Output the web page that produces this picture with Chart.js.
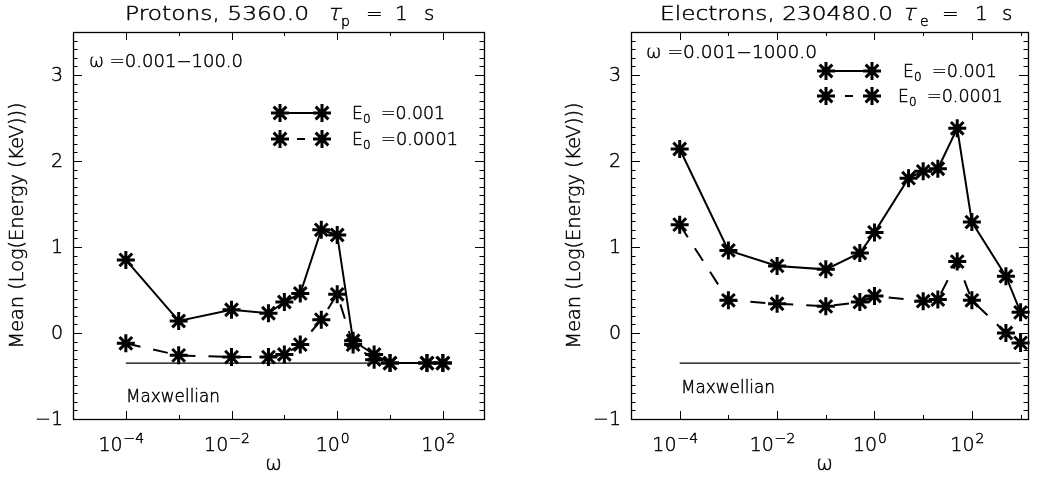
<!DOCTYPE html>
<html>
<head>
<meta charset="utf-8">
<script src="https://cdn.jsdelivr.net/npm/chart.js@4.4.0/dist/chart.umd.min.js"></script>
<style>
  html, body { margin: 0; padding: 0; background: #fff; }
  #wrap { position: relative; width: 1040px; height: 480px; }
  .panel { position: absolute; top: 0; width: 520px; height: 480px; }
</style>
</head>
<body>
<div id="wrap">
  <div class="panel" style="left:0"><canvas id="protons"></canvas></div>
  <div class="panel" style="left:520px"><canvas id="electrons"></canvas></div>
</div>
<script>
// ===== Data =====
// Protons
const protonOmega = [1e-4, 1e-3, 1e-2, 0.05, 0.1, 0.2, 0.5, 1, 2, 5, 10, 50, 100];
const protonE001  = [0.85, 0.14, 0.27, 0.23, 0.36, 0.46, 1.20, 1.14, -0.09, -0.25, -0.35, -0.35, -0.35];
const protonE0001 = [-0.12, -0.26, -0.28, -0.28, -0.25, -0.135, 0.155, 0.45, -0.135, -0.31, -0.35, -0.35, -0.35];

// Electrons
const electronOmega1 = [1e-4, 1e-3, 1e-2, 0.1, 0.5, 1, 5, 10, 20, 50, 100, 500, 1000];
const electronE001   = [2.14, 0.96, 0.78, 0.74, 0.93, 1.17, 1.80, 1.88, 1.91, 2.38, 1.29, 0.66, 0.24];
const electronOmega2 = [1e-4, 1e-3, 1e-2, 0.1, 0.5, 1, 10, 20, 50, 100, 500, 1000];
const electronE0001  = [1.26, 0.38, 0.34, 0.31, 0.36, 0.43, 0.37, 0.39, 0.83, 0.38, 0.0, -0.115];

// Maxwellian reference level and its omega span
const maxwellianLevel = -0.35;
const protonMaxwellianSpan = [1e-4, 100];
const electronMaxwellianSpan = [1e-4, 1000];

// Axis ticks
const yTickValues = [-1, 0, 1, 2, 3];
const yTickLabels = ['\u22121', '0', '1', '2', '3'];
const xTickExponents = [-4, -2, 0, 2];
const xTickExpLabels = ['\u22124', '\u22122', '0', '2'];

const legendLabels = ['=0.001', '=0.0001'];

// ===== Helpers =====
const FONT = '"DejaVu Sans", sans-serif';
const pts = (xs, ys) => xs.map((v, i) => ({ x: v, y: ys[i] }));

function setFont(ctx, size) {
  ctx.font = '200 ' + size + 'px ' + FONT;
}

// thin font, darkened a little with a light stroke
function txt(ctx, text, x, y) {
  ctx.fillText(text, x, y);
  ctx.strokeText(text, x, y);
}

// draw text stretched/compressed to a given width, optionally slanted
function fitText(ctx, text, x, y, w, slant) {
  const m = ctx.measureText(text).width;
  ctx.save();
  ctx.translate(x, y);
  if (slant) ctx.transform(1, 0, -0.25, 1, 0, 0);
  if (w) ctx.scale(w / m, 1);
  txt(ctx, text, 0, 0);
  ctx.restore();
}

function star(ctx, x, y, r) {
  ctx.beginPath();
  for (let k = 0; k < 4; k++) {
    const a = k * Math.PI / 4;
    ctx.moveTo(x - Math.cos(a) * r, y - Math.sin(a) * r);
    ctx.lineTo(x + Math.cos(a) * r, y + Math.sin(a) * r);
  }
  ctx.stroke();
}

// frame, inward ticks on all 4 sides, labels and texts (IDL look)
function drawDecor(chart, cfg) {
  const { ctx, chartArea: a, scales: { x, y } } = chart;
  ctx.save();
  ctx.strokeStyle = '#000';
  ctx.fillStyle = '#000';
  ctx.lineWidth = 1.3;
  ctx.strokeRect(a.left + 0.5, a.top + 0.5, a.right - a.left, a.bottom - a.top);

  // y ticks every 0.1, major every 1
  ctx.lineWidth = 1;
  ctx.beginPath();
  for (let i = -10; i <= 35; i++) {
    const py = Math.round(y.getPixelForValue(i / 10)) + 0.5;
    if (py <= a.top + 1 || py >= a.bottom - 1) continue;
    const len = i % 10 === 0 ? 9 : 4.5;
    ctx.moveTo(a.left, py); ctx.lineTo(a.left + len, py);
    ctx.moveTo(a.right, py); ctx.lineTo(a.right - len, py);
  }
  // x ticks at each decade, major on even exponents
  for (let e = -5; e <= 4; e++) {
    const px = Math.round(x.getPixelForValue(Math.pow(10, e))) + 0.5;
    if (px <= a.left + 1 || px >= a.right - 1) continue;
    const len = e % 2 === 0 ? 8 : 4;
    ctx.moveTo(px, a.bottom); ctx.lineTo(px, a.bottom - len);
    ctx.moveTo(px, a.top); ctx.lineTo(px, a.top + len);
  }
  ctx.stroke();

  ctx.lineWidth = 0.45;

  // y tick labels
  setFont(ctx, 19);
  ctx.textAlign = 'right';
  ctx.textBaseline = 'middle';
  yTickValues.forEach((v, i) => {
    txt(ctx, yTickLabels[i], a.left - 10, y.getPixelForValue(v) + 1);
  });

  // x tick labels: 10 with superscript exponent
  ctx.textAlign = 'left';
  ctx.textBaseline = 'alphabetic';
  xTickExponents.forEach((e, i) => {
    const px = x.getPixelForValue(Math.pow(10, e));
    setFont(ctx, 19);
    const w10 = ctx.measureText('10').width;
    setFont(ctx, 14);
    const we = ctx.measureText(xTickExpLabels[i]).width;
    const x0 = px - 5 - (w10 + we) / 2;
    setFont(ctx, 19);
    txt(ctx, '10', x0, 451);
    setFont(ctx, 14);
    txt(ctx, xTickExpLabels[i], x0 + w10 + 1, 443);
  });

  // x axis title
  setFont(ctx, 20);
  ctx.textAlign = 'center';
  txt(ctx, '\u03c9', (a.left + a.right) / 2 - 5, 470);

  // y axis title
  ctx.save();
  ctx.translate(cfg.yTitleX, (a.top + a.bottom) / 2);
  ctx.rotate(-Math.PI / 2);
  setFont(ctx, 19);
  ctx.textAlign = 'left';
  ctx.textBaseline = 'middle';
  fitText(ctx, 'Mean (Log(Energy (KeV)))', -123, 0, 246);
  ctx.restore();

  // title pieces
  ctx.textAlign = 'left';
  ctx.textBaseline = 'alphabetic';
  cfg.title.forEach(p => {
    setFont(ctx, p.size || 20);
    fitText(ctx, p.t, p.x, 20 + (p.dy || 0), p.w, p.italic);
  });

  // omega range note
  setFont(ctx, 17);
  fitText(ctx, cfg.note.t, cfg.note.x, cfg.note.y, cfg.note.w);

  // Maxwellian label
  fitText(ctx, 'Maxwellian', cfg.maxLabel.x, cfg.maxLabel.y, 94);

  // legend
  cfg.legend.forEach((L, i) => {
    ctx.lineWidth = 3;
    star(ctx, L.s1, L.y, 9);
    star(ctx, L.s2, L.y, 9);
    ctx.lineWidth = 2;
    ctx.beginPath();
    if (i === 0) {
      ctx.moveTo(L.s1, L.y); ctx.lineTo(L.s2, L.y);
    } else {
      const mid = (L.s1 + L.s2) / 2;
      ctx.moveTo(mid - 4, L.y); ctx.lineTo(mid + 4, L.y);
    }
    ctx.stroke();
    ctx.lineWidth = 0.45;
    setFont(ctx, 17);
    txt(ctx, 'E', L.tx, L.y + 6);
    setFont(ctx, 12);
    txt(ctx, '0', L.tx + 11, L.y + 10);
    setFont(ctx, 17);
    fitText(ctx, legendLabels[i], L.tx + 29, L.y + 6, L.w);
  });
  ctx.restore();
}

function makePanel(canvasId, cfg) {
  const starStyle = {
    borderColor: '#000', backgroundColor: '#000',
    pointStyle: 'star', pointRadius: 9, pointBorderWidth: 3,
    pointBorderColor: '#000', borderWidth: 2, tension: 0, clip: false
  };
  new Chart(document.getElementById(canvasId), {
    type: 'line',
    data: {
      datasets: [
        { data: pts(cfg.maxSpan, [maxwellianLevel, maxwellianLevel]), borderColor: '#000',
          borderWidth: 1.4, pointRadius: 0, clip: false },
        Object.assign({ data: pts(cfg.omega1, cfg.e1) }, starStyle),
        Object.assign({ data: pts(cfg.omega2, cfg.e2), borderDash: [15, 13] }, starStyle)
      ]
    },
    options: {
      responsive: true,
      maintainAspectRatio: false,
      animation: false,
      events: [],
      layout: { padding: cfg.padding },
      scales: {
        x: { type: 'logarithmic', min: 1e-5, max: cfg.xMax, display: false },
        y: { type: 'linear', min: -1, max: 3.5, display: false }
      },
      plugins: { legend: { display: false }, tooltip: { enabled: false } }
    },
    plugins: [{ id: 'idlDecor', afterDraw: chart => drawDecor(chart, cfg) }]
  });
}

makePanel('protons', {
  omega1: protonOmega, e1: protonE001,
  omega2: protonOmega, e2: protonE0001,
  maxSpan: protonMaxwellianSpan,
  xMax: 600,
  padding: { left: 73, top: 32, right: 36, bottom: 61 },
  yTitleX: 18,
  title: [
    { t: 'Protons, 5360.0', x: 125, w: 184 },
    { t: '\u03c4', x: 327, italic: true, size: 22 },
    { t: 'p', x: 341, size: 14, dy: 6 },
    { t: '=', x: 366 },
    { t: '1', x: 395 },
    { t: 's', x: 424 }
  ],
  note: { t: '\u03c9 =0.001\u2212100.0', x: 89, y: 67, w: 154 },
  maxLabel: { x: 126, y: 402 },
  legend: [
    { s1: 280, s2: 322, y: 113, tx: 352, w: 64 },
    { s1: 280, s2: 322, y: 139, tx: 352, w: 77 }
  ]
});

makePanel('electrons', {
  omega1: electronOmega1, e1: electronE001,
  omega2: electronOmega2, e2: electronE0001,
  maxSpan: electronMaxwellianSpan,
  xMax: 1420,
  padding: { left: 111, top: 32, right: 0, bottom: 61 },
  yTitleX: 55,
  title: [
    { t: 'Electrons, 230480.0', x: 140, w: 233 },
    { t: '\u03c4', x: 382, italic: true, size: 22 },
    { t: 'e', x: 400, size: 14, dy: 6 },
    { t: '=', x: 422 },
    { t: '1', x: 455 },
    { t: 's', x: 482 }
  ],
  note: { t: '\u03c9 =0.001\u22121000.0', x: 126, y: 58, w: 171 },
  maxLabel: { x: 161, y: 393 },
  legend: [
    { s1: 306, s2: 352, y: 71, tx: 383, w: 65 },
    { s1: 306, s2: 352, y: 96, tx: 378, w: 76 }
  ]
});
</script>
</body>
</html>
